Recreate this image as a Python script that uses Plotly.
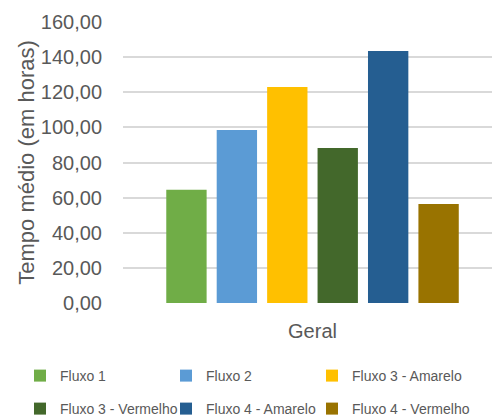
import plotly.graph_objects as go

categories = ["Geral"]
series_names = [
    "Fluxo 1",
    "Fluxo 2",
    "Fluxo 3 - Amarelo",
    "Fluxo 3 - Vermelho",
    "Fluxo 4 - Amarelo",
    "Fluxo 4 - Vermelho",
]
series_values = [64.5, 98.5, 123.0, 88.3, 143.5, 56.4]
series_colors = ["#70ad47", "#5b9bd5", "#ffc000", "#43682b", "#255e91", "#997300"]
y_ticks = [0, 20, 40, 60, 80, 100, 120, 140, 160]

FONT = "Liberation Sans"
GRAY = "#595959"
W, H = 492, 416

# legend grid: three columns, two rows (left edge of each entry / row centre, in px)
legend_cols = [20, 166, 312]
legend_rows = [376, 409]

fig = go.Figure()
legend_ids = ["legend", "legend2", "legend3", "legend4", "legend5", "legend6"]
for i, (name, val, col) in enumerate(zip(series_names, series_values, series_colors)):
    fig.add_trace(go.Bar(
        x=categories, y=[val], name=name,
        marker=dict(color=col, line=dict(width=0)),
        legend=legend_ids[i], showlegend=True,
    ))

legend_layout = {}
for i, lid in enumerate(legend_ids):
    legend_layout[lid] = dict(
        orientation="h", xref="container", yref="container",
        xanchor="left", yanchor="middle",
        x=legend_cols[i % 3] / W,
        y=1 - legend_rows[i // 3] / H,
        font=dict(family=FONT, size=14, color=GRAY),
        itemwidth=30, bgcolor="rgba(0,0,0,0)", borderwidth=0,
    )

fig.update_layout(
    width=W, height=H,
    showlegend=True,
    margin=dict(l=123, r=0, t=22, b=113),
    paper_bgcolor="white", plot_bgcolor="white",
    separators=",.",
    barmode="group", bargap=0.18, bargroupgap=0.2,
    font=dict(family=FONT, color=GRAY),
    yaxis=dict(
        range=[0, 160], tickvals=y_ticks, tickformat=".2f",
        showgrid=True, gridcolor="#d9d9d9", gridwidth=1.5,
        zeroline=False, showline=False,
        tickfont=dict(family=FONT, size=20, color=GRAY),
        ticklabelstandoff=20,
        title=dict(text="Tempo médio (em horas)",
                   font=dict(family=FONT, size=22, color=GRAY), standoff=0),
        automargin=False,
    ),
    xaxis=dict(
        range=[-0.5136, 0.4864],
        showgrid=False, zeroline=False, showline=False,
        tickfont=dict(family=FONT, size=20, color=GRAY),
        ticklabelstandoff=14, automargin=False,
    ),
    **legend_layout,
)

fig.write_html("out.html")
